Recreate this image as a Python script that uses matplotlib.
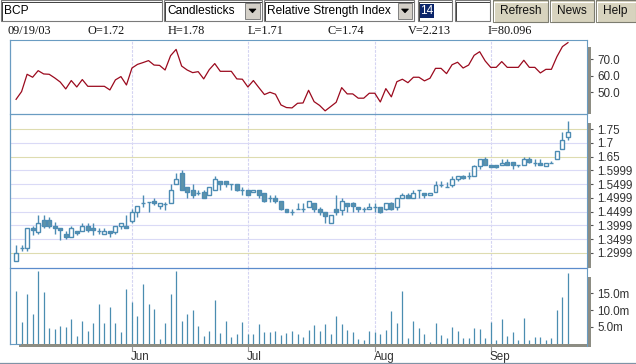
import numpy as np
import pandas as pd
import matplotlib
matplotlib.use("Agg")
import matplotlib.pyplot as plt
import matplotlib.transforms as mtrans
from matplotlib.patches import Rectangle, Polygon
from matplotlib.lines import Line2D

W, H = 636, 364

# trading days shown (BCP, Lisbon - weekdays only)
dates = pd.bdate_range("2003-05-02", "2003-09-19")

opens = [1.270, 1.317, 1.317, 1.389, 1.377, 1.419, 1.419, 1.397, 1.389, 1.369,
         1.357, 1.380, 1.379, 1.397, 1.391, 1.380, 1.369, 1.380, 1.377, 1.397,
         1.399, 1.417, 1.448, 1.480, 1.486, 1.488, 1.470, 1.476, 1.480, 1.549,
         1.589, 1.538, 1.529, 1.519, 1.520, 1.509, 1.529, 1.560, 1.560, 1.549,
         1.549, 1.529, 1.529, 1.520, 1.529, 1.519, 1.498, 1.498, 1.489, 1.460,
         1.450, 1.460, 1.460, 1.468, 1.480, 1.460, 1.448, 1.408, 1.460, 1.456,
         1.480, 1.480, 1.468, 1.460, 1.460, 1.468, 1.468, 1.460, 1.480, 1.468,
         1.498, 1.509, 1.498, 1.529, 1.519, 1.509, 1.520, 1.548, 1.541, 1.548,
         1.567, 1.579, 1.579, 1.579, 1.617, 1.640, 1.619, 1.619, 1.619, 1.629,
         1.629, 1.619, 1.619, 1.640, 1.628, 1.628, 1.617, 1.628, 1.640, 1.679,
         1.72]
highs = [1.328, 1.328, 1.390, 1.397, 1.437, 1.437, 1.429, 1.414, 1.389, 1.381,
         1.397, 1.380, 1.408, 1.410, 1.408, 1.389, 1.389, 1.380, 1.397, 1.408,
         1.437, 1.460, 1.469, 1.510, 1.486, 1.498, 1.480, 1.484, 1.549, 1.589,
         1.601, 1.538, 1.549, 1.529, 1.528, 1.538, 1.579, 1.560, 1.560, 1.549,
         1.549, 1.538, 1.529, 1.529, 1.529, 1.519, 1.509, 1.509, 1.489, 1.460,
         1.460, 1.480, 1.480, 1.488, 1.480, 1.468, 1.448, 1.438, 1.510, 1.498,
         1.480, 1.486, 1.468, 1.468, 1.480, 1.480, 1.468, 1.480, 1.486, 1.498,
         1.519, 1.519, 1.529, 1.529, 1.519, 1.519, 1.560, 1.562, 1.556, 1.581,
         1.579, 1.583, 1.593, 1.620, 1.640, 1.647, 1.619, 1.619, 1.640, 1.640,
         1.629, 1.619, 1.647, 1.647, 1.640, 1.640, 1.628, 1.635, 1.669, 1.738,
         1.78]
lows = [1.270, 1.308, 1.308, 1.365, 1.369, 1.390, 1.390, 1.369, 1.347, 1.350,
        1.357, 1.365, 1.379, 1.376, 1.367, 1.369, 1.369, 1.357, 1.369, 1.387,
        1.392, 1.408, 1.432, 1.466, 1.448, 1.474, 1.458, 1.456, 1.480, 1.549,
        1.529, 1.498, 1.498, 1.509, 1.498, 1.509, 1.529, 1.529, 1.538, 1.529,
        1.525, 1.509, 1.509, 1.520, 1.498, 1.486, 1.486, 1.480, 1.456, 1.450,
        1.438, 1.460, 1.448, 1.468, 1.448, 1.438, 1.408, 1.408, 1.438, 1.438,
        1.448, 1.448, 1.448, 1.448, 1.460, 1.448, 1.444, 1.456, 1.456, 1.456,
        1.498, 1.498, 1.498, 1.498, 1.498, 1.509, 1.520, 1.538, 1.541, 1.541,
        1.562, 1.567, 1.567, 1.579, 1.605, 1.619, 1.611, 1.609, 1.619, 1.619,
        1.605, 1.611, 1.619, 1.628, 1.617, 1.619, 1.617, 1.628, 1.640, 1.679,
        1.71]
closes = [1.299, 1.317, 1.390, 1.382, 1.408, 1.398, 1.399, 1.392, 1.382, 1.359,
          1.390, 1.371, 1.397, 1.382, 1.382, 1.380, 1.380, 1.371, 1.397, 1.408,
          1.392, 1.448, 1.469, 1.480, 1.484, 1.482, 1.480, 1.476, 1.529, 1.569,
          1.529, 1.521, 1.512, 1.519, 1.501, 1.538, 1.569, 1.549, 1.549, 1.549,
          1.529, 1.529, 1.512, 1.529, 1.512, 1.490, 1.498, 1.490, 1.460, 1.450,
          1.450, 1.460, 1.460, 1.488, 1.460, 1.450, 1.434, 1.438, 1.448, 1.488,
          1.472, 1.472, 1.460, 1.460, 1.468, 1.468, 1.450, 1.480, 1.460, 1.498,
          1.509, 1.498, 1.519, 1.529, 1.512, 1.519, 1.548, 1.548, 1.541, 1.567,
          1.579, 1.571, 1.579, 1.617, 1.640, 1.621, 1.611, 1.611, 1.628, 1.621,
          1.621, 1.619, 1.640, 1.630, 1.628, 1.619, 1.628, 1.628, 1.669, 1.709,
          1.74]
volumes = [15.7, 6.6, 14.7, 8.8, 21.7, 15.4, 4.7, 4.4, 5.4, 5.1,
           7.5, 2.3, 6.9, 3.8, 6.3, 11.8, 6.1, 11.1, 6.1, 3.5,
           16.3, 12.4, 8.4, 17.8, 12.0, 10.5, 1.4, 6.3, 14.7, 21.7,
           6.9, 8.8, 10.2, 5.4, 2.3, 3.8, 12.9, 3.2, 6.9, 2.0,
           2.9, 6.6, 2.9, 2.9, 6.0, 3.5, 3.5, 3.8, 2.6, 3.2,
           3.8, 2.9, 2.0, 4.1, 5.7, 3.8, 6.0, 3.0, 8.4, 6.0,
           4.1, 3.5, 1.4, 1.1, 3.8, 3.5, 2.9, 4.1, 9.9, 6.3,
           15.7, 1.7, 6.9, 4.7, 2.9, 0.5, 6.3, 2.6, 1.7, 5.1,
           3.8, 1.7, 1.7, 4.7, 4.4, 1.7, 6.6, 1.1, 7.5, 2.3,
           3.5, 1.1, 7.8, 1.1, 2.0, 2.0, 1.1, 1.7, 10.2, 13.8, 21.1]
rsi = [45.7, 50.4, 60.9, 59.1, 63.1, 61.1, 60.9, 58.7, 56.2, 52.0,
       57.1, 53.2, 57.7, 53.6, 53.6, 53.6, 53.6, 51.4, 57.5, 59.5,
       54.4, 64.7, 66.9, 68.0, 69.2, 66.5, 66.3, 63.5, 72.2, 76.0,
       65.9, 63.5, 61.9, 62.5, 58.1, 63.7, 67.4, 62.7, 62.7, 62.7,
       58.1, 57.9, 53.2, 57.1, 52.8, 48.6, 50.0, 48.8, 42.3, 40.7,
       40.5, 43.3, 43.5, 51.2, 44.3, 42.0, 38.7, 41.3, 43.9, 52.8,
       49.0, 49.0, 46.4, 46.4, 49.4, 49.4, 44.1, 52.2, 47.2, 56.4,
       57.9, 55.8, 59.1, 59.1, 56.9, 58.5, 64.5, 64.5, 61.3, 66.7,
       68.2, 64.7, 66.5, 72.4, 74.6, 69.0, 65.1, 65.1, 68.6, 65.1,
       65.1, 65.1, 69.4, 65.1, 65.1, 61.7, 63.9, 63.9, 71.6, 77.7, 80.096]

price_ticks = [1.2999, 1.3499, 1.3999, 1.4499, 1.4999, 1.5499, 1.5999, 1.65, 1.7, 1.75]
price_labels = ["1.2999", "1.3499", "1.3999", "1.4499", "1.4999", "1.5499", "1.5999", "1.65", "1.7", "1.75"]
rsi_ticks = [50, 60, 70]
rsi_labels = ["50.0", "60.0", "70.0"]
vol_ticks = [5, 10, 15]
vol_labels = ["5.0m", "10.0m", "15.0m"]
header = ["09/19/03", "O=1.72", "H=1.78", "L=1.71", "C=1.74", "V=2.213", "I=80.096"]

SANS = "Liberation Sans"
CANDLE = "#4d8cb3"
FILLC = "#5e93aa"
GRID_V = "#d4d4f2"
FRAME = "#6a9cc2"
UI_FS = 8.6


def fx(x):
    return x / W


def fy(y):
    return 1 - y / H


def rect(x0, y0, x1, y1, **kw):
    fig.add_artist(Rectangle((fx(x0), fy(y1)), (x1 - x0) / W, (y1 - y0) / H,
                             transform=fig.transFigure, **kw))


def line(xs, ys, **kw):
    fig.add_artist(Line2D([fx(v) for v in xs], [fy(v) for v in ys],
                          transform=fig.transFigure, **kw))


fig = plt.figure(figsize=(W / 100, H / 100), dpi=100)
fig.patch.set_facecolor("white")

x = np.arange(len(dates))
month_idx = [i for i in range(1, len(dates)) if dates[i].month != dates[i - 1].month]
month_names = [dates[i].strftime("%b") for i in month_idx]


def panel(y0, y1):
    ax = fig.add_axes([fx(10), fy(y1), 577 / W, (y1 - y0) / H])
    ax.set_facecolor("none")
    for s in ax.spines.values():
        s.set_visible(False)
    ax.set_xlim(-1.1, 103.45)
    ax.set_xticks([])
    ax.yaxis.tick_right()
    ax.tick_params(axis="y", length=4.2, width=0.8, color="#555555", pad=3,
                   labelsize=8.4, labelcolor="#333333")
    for i in month_idx:
        ax.axvline(i, color=GRID_V, lw=0.8, ls=(0, (2.5, 1.2)), zorder=0)
    return ax


# RSI panel
ax_rsi = panel(40, 114)
ax_rsi.plot(x, rsi, color="#9b0a1e", lw=0.9, zorder=3)
ax_rsi.set_ylim(36.8, 81.7)
ax_rsi.set_yticks(rsi_ticks)
ax_rsi.set_yticklabels(rsi_labels, fontfamily=SANS)

# candlestick panel
ax_px = panel(114, 268)
o, hi, lo, c = map(np.array, (opens, highs, lows, closes))
for t in price_ticks:
    col = "#dedcb0" if t in (1.75, 1.65, 1.2999) else "#dadaf6"
    ax_px.axhline(t, color=col, lw=0.8, zorder=0)
bw = 0.72
ax_px.vlines(x, lo, hi, color=CANDLE, lw=1.0, zorder=3)
up = c > o
dn = c < o
fl = c == o
ax_px.bar(x[up], (c - o)[up], bottom=o[up], width=bw, facecolor="white",
          edgecolor=CANDLE, lw=1.0, zorder=4)
ax_px.bar(x[dn], (o - c)[dn], bottom=c[dn], width=bw, facecolor=FILLC,
          edgecolor=CANDLE, lw=1.0, zorder=4)
ax_px.hlines(c[fl], x[fl] - bw / 2, x[fl] + bw / 2, color=CANDLE, lw=1.0, zorder=4)
ax_px.set_ylim(1.2454, 1.8045)
ax_px.set_yticks(price_ticks)
ax_px.set_yticklabels(price_labels, fontfamily=SANS)

# volume panel
ax_vol = panel(268, 343.7)
ax_vol.vlines(x, 0, volumes, color="#4a8db0", lw=0.9, zorder=3)
ax_vol.set_ylim(0, 22.6)
ax_vol.set_yticks(vol_ticks)
ax_vol.set_yticklabels(vol_labels, fontfamily=SANS)
tr = mtrans.blended_transform_factory(ax_vol.transData, ax_vol.transAxes)
for i, name in zip(month_idx, month_names):
    ax_vol.text(i - 0.15, -0.18, name, transform=tr, ha="left", va="center",
                fontsize=8.4, color="#333333", fontfamily=SANS)
    ax_vol.plot([i, i], [-0.02, -0.09], transform=tr, color="#9a9a9a", lw=0.8,
                clip_on=False)

# frames
line([10, 587], [40, 40], color=FRAME, lw=0.8)
line([10, 587], [114, 114], color=FRAME, lw=0.9)
line([10, 587], [268, 268], color="#5b8ccc", lw=0.9)
line([10, 10], [40, 343.5], color=FRAME, lw=0.9)
line([587, 587], [40, 346], color=FRAME, lw=0.8)
line([10, 20], [343.5, 343.5], color=FRAME, lw=0.8)
line([0, 636], [363, 363], color="#7f93a6", lw=0.9)
STRIP = "#8d8d83"
rect(587.3, 47, 590.5, 114, facecolor=STRIP, edgecolor="none")
rect(587.3, 123, 590.5, 268, facecolor=STRIP, edgecolor="none")
rect(587.3, 277, 590.5, 346.5, facecolor=STRIP, edgecolor="none")
rect(19, 343.5, 590.5, 346.5, facecolor=STRIP, edgecolor="none")

# header values
for k, txt in enumerate(header):
    fig.text(fx(8 + 80 * k), fy(31), txt, ha="left", va="center",
             fontsize=8.8, fontfamily="Liberation Serif", color="#111111")


# toolbar
def textbox(x0, x1):
    rect(x0, 0.5, x1, 21, facecolor="white", edgecolor="#7a7a7a", lw=0.8)
    line([x0 + 1, x1 - 1], [1.6, 1.6], color="#404040", lw=0.7)
    line([x0 + 1.1, x0 + 1.1], [1.5, 20], color="#404040", lw=0.7)


def arrow_btn(x0, x1):
    rect(x0, 2.5, x1, 19, facecolor="#d4d0c8", edgecolor="#808080", lw=0.7)
    cx, cy = (x0 + x1) / 2, 10.8
    tri = [(fx(cx - 3.5), fy(cy - 1.8)), (fx(cx + 3.5), fy(cy - 1.8)), (fx(cx), fy(cy + 2))]
    fig.add_artist(Polygon(tri, closed=True, transform=fig.transFigure,
                           facecolor="black", edgecolor="black", lw=0.5))


def button(x0, x1, label):
    rect(x0, 0.5, x1, 21.5, facecolor="#d7d3be", edgecolor="#7c7c70", lw=0.8)
    line([x0 + 1, x1 - 1], [1.5, 1.5], color="white", lw=0.8)
    line([x0 + 1, x0 + 1], [1.5, 20.5], color="white", lw=0.8)
    fig.text(fx((x0 + x1) / 2), fy(11), label, ha="center", va="center",
             fontsize=UI_FS, fontfamily=SANS, color="#111111")


textbox(0.5, 162)
fig.text(fx(4), fy(11), "BCP", ha="left", va="center", fontsize=UI_FS,
         fontfamily=SANS, color="black")
textbox(164, 262)
arrow_btn(245, 260)
fig.text(fx(167), fy(11), "Candlesticks", ha="left", va="center", fontsize=UI_FS,
         fontfamily=SANS, color="black")
textbox(264, 414)
arrow_btn(398, 412)
fig.text(fx(267), fy(11), "Relative Strength Index", ha="left", va="center",
         fontsize=UI_FS, fontfamily=SANS, color="black")
textbox(418, 452)
rect(420, 4, 434, 18, facecolor="#0a246a", edgecolor="none")
fig.text(fx(427), fy(11), "14", ha="center", va="center", fontsize=UI_FS,
         fontfamily=SANS, color="white")
textbox(455, 490)
button(493, 548, "Refresh")
button(550, 594, "News")
button(596, 635.5, "Help")

fig.savefig("out.png", dpi=100, facecolor="white")
